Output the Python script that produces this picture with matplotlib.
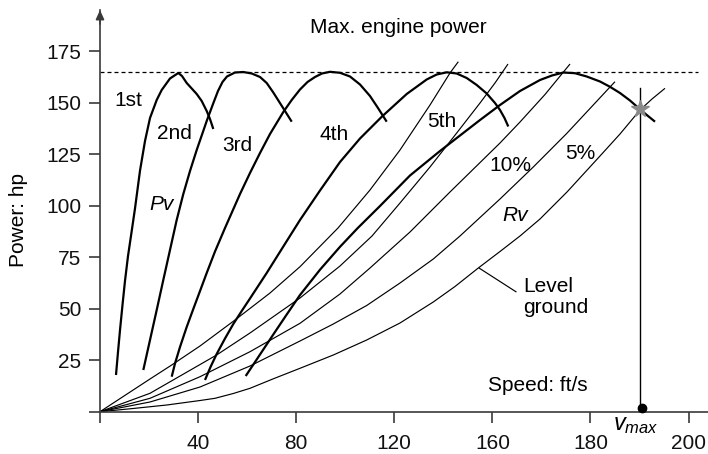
import matplotlib
matplotlib.use("Agg")
import matplotlib.pyplot as plt

plt.rcParams['font.family'] = ['Liberation Sans', 'DejaVu Sans']
plt.rcParams['mathtext.fontset'] = 'custom'
plt.rcParams['mathtext.rm'] = 'Liberation Sans'
plt.rcParams['mathtext.it'] = 'Liberation Sans:italic'

# ---------------- data (speed units as drawn, power in hp) ----------------
gear1_v = [6.52, 7.34, 8.16, 9.17, 10.19, 11.42, 12.93, 14.27, 16.31, 18.35, 20.39, 23.12, 25.16, 28.54, 31.93,
           33.44, 35.35, 37.39, 39.43, 41.47, 43.51, 44.85, 46.20]
gear1_p = [17.81, 28.97, 39.64, 51.77, 63.42, 75.54, 87.67, 98.60, 116.93, 131.34, 142.50, 151.24, 156.09, 161.67, 164.34,
           162.88, 159.49, 156.82, 154.15, 150.75, 145.90, 142.02, 137.17]

gear2_v = [17.66, 20.39, 23.12, 25.81, 28.54, 31.27, 33.97, 36.70, 39.43, 43.51, 46.08, 48.11, 49.95, 51.78, 55.05,
           58.43, 61.86, 65.24, 67.97, 70.66, 74.74, 78.17]
gear2_p = [20.23, 34.79, 49.34, 63.90, 78.46, 93.01, 105.63, 116.79, 126.98, 141.05, 149.30, 155.60, 159.97, 162.64, 164.58,
           164.82, 164.10, 162.40, 159.49, 154.88, 147.21, 140.71]

gear3_v = [29.24, 30.58, 32.62, 35.35, 38.04, 40.78, 43.51, 46.89, 50.97, 57.09, 61.16, 65.24, 69.32, 74.74, 78.17,
           81.55, 84.61, 87.67, 90.52, 93.79, 97.86, 101.94, 106.02, 110.09, 113.35, 116.90]
gear3_p = [16.98, 23.39, 31.39, 41.10, 49.83, 58.56, 67.30, 77.73, 89.13, 105.63, 115.82, 125.52, 134.74, 145.41, 151.24,
           156.33, 159.97, 162.40, 164.10, 164.92, 164.44, 162.64, 158.76, 153.18, 147.35, 140.71]

gear4_v = [42.81, 45.06, 47.58, 50.97, 54.35, 57.78, 61.16, 67.97, 74.62, 81.55, 89.71, 97.86, 106.02, 114.99, 125.06,
           133.21, 137.29, 141.37, 145.45, 149.52, 153.60, 157.68, 161.06, 163.10, 164.93, 166.48]
gear4_p = [15.38, 21.69, 28.00, 35.52, 42.55, 48.86, 54.93, 67.30, 79.91, 93.01, 107.33, 121.15, 132.56, 143.23, 154.15,
           161.19, 163.61, 164.68, 164.10, 161.91, 158.52, 154.39, 149.78, 146.38, 142.50, 138.38]

gear5_v = [59.41, 63.89, 70.66, 76.13, 81.55, 89.71, 97.86, 105.0, 114.17, 126.40, 138.64, 146.79, 154.95, 163.10,
           171.26, 179.41, 184.30, 188.91, 193.68, 198.45, 203.88, 207.95, 212.03, 216.11, 220.19, 223.45, 226.31]
gear5_p = [17.32, 25.33, 37.46, 47.16, 56.62, 68.90, 80.00, 89.00, 99.80, 114.60, 126.49, 134.01, 141.53, 148.81,
           155.60, 160.94, 163.13, 164.58, 164.24, 162.64, 160.21, 157.64, 154.63, 150.99, 146.72, 143.47, 140.71]

# resistance power curves Rv (two steepest grades, 10 %, 5 %, level ground)
rA_v = [0, 20.39, 29.24, 40.78, 55.05, 69.32, 81.55, 97.05, 110.09, 122.33, 134.56, 142.71, 146.10]
rA_p = [0, 15.87, 22.66, 31.88, 44.49, 57.59, 70.35, 89.13, 107.57, 126.98, 148.81, 164.34, 169.82]

rB_v = [0, 20.39, 47.55, 61.16, 81.55, 97.86, 110.91, 122.33, 134.56, 145.45, 154.95, 161.06, 166.36]
rB_p = [0, 8.93, 27.51, 38.19, 55.17, 70.69, 85.25, 101.26, 118.73, 135.23, 149.78, 159.49, 168.70]

r10_v = [0, 20.39, 40.78, 61.16, 81.55, 97.86, 110.09, 126.40, 142.71, 163.10, 171.26, 181.45, 191.65]
r10_p = [0, 6.50, 16.98, 29.11, 42.89, 57.11, 69.72, 87.19, 106.60, 130.37, 140.56, 153.91, 168.70]

r5_v = [0, 20.39, 40.78, 61.16, 81.55, 95.13, 108.75, 122.33, 135.90, 146.79, 163.10, 176.68, 190.29, 199.79, 209.98]
r5_p = [0, 4.71, 11.98, 22.17, 34.30, 42.55, 51.53, 62.44, 74.09, 85.25, 103.20, 118.73, 134.98, 147.11, 160.12]

rlev_v = [0, 13.46, 27.23, 40.78, 46.89, 54.35, 61.16, 70.66, 81.55, 95.13, 108.75, 122.33, 135.90, 144.75, 154.25,
          163.10, 171.26, 179.41, 190.42, 203.88, 212.03, 220.19, 225.08, 230.38]
rlev_p = [0, 1.55, 3.25, 5.43, 6.50, 8.83, 11.35, 15.96, 21.06, 27.51, 34.79, 43.04, 53.23, 60.75, 69.72,
          77.73, 85.25, 93.50, 106.60, 124.07, 134.74, 146.39, 151.72, 156.91]

max_power = 165
vmax_speed = 220.2
vmax_power = 146.7

x_ticks = [0, 40, 80, 120, 160, 200, 240]
x_tick_labels = ["", "40", "80", "120", "160", "180", "200"]
y_ticks = [0, 25, 50, 75, 100, 125, 150, 175]
y_tick_labels = ["", "25", "50", "75", "100", "125", "150", "175"]

# ---------------- figure ----------------
W, H = 708, 454
fig = plt.figure(figsize=(W / 100, H / 100), dpi=100)
ax = fig.add_axes([100 / W, (H - 411.7) / H, 608 / W, (411.7 - 10) / H])
ax.set_xlim(0, 608 * 0.40775)
ax.set_ylim(0, (411.7 - 10) / 2.061)

axcol = '#3a3a3a'
for s in ['top', 'right']:
    ax.spines[s].set_visible(False)
for s in ['left', 'bottom']:
    ax.spines[s].set_color(axcol)
    ax.spines[s].set_linewidth(1.2)

ax.set_xticks(x_ticks)
ax.set_xticklabels(x_tick_labels)
ax.set_yticks(y_ticks)
ax.set_yticklabels(y_tick_labels)
ax.tick_params(axis='both', direction='out', length=8, width=1.2, color=axcol,
               labelsize=15, labelcolor='#111111')
ax.tick_params(axis='x', pad=8)
ax.tick_params(axis='y', pad=5.5)

# y-axis arrow head
ax.annotate('', xy=(0, (411.7 - 10) / 2.061), xytext=(0, (411.7 - 24) / 2.061),
            arrowprops=dict(arrowstyle='-|>,head_length=0.55,head_width=0.25',
                            color=axcol, lw=1.2, shrinkA=0, shrinkB=0),
            annotation_clip=False)

# max engine power
ax.plot([0, 243.8], [max_power, max_power], ls=(0, (3.2, 2.4)), color='black', lw=0.9)

thin = dict(color='black', lw=0.85, solid_capstyle='butt', solid_joinstyle='round')
for xs, ys in [(rA_v, rA_p), (rB_v, rB_p), (r10_v, r10_p), (r5_v, r5_p), (rlev_v, rlev_p)]:
    ax.plot(xs, ys, **thin)

thick = dict(color='black', lw=1.6, solid_capstyle='butt', solid_joinstyle='round')
for xs, ys in [(gear1_v, gear1_p), (gear2_v, gear2_p), (gear3_v, gear3_p),
               (gear4_v, gear4_p), (gear5_v, gear5_p)]:
    ax.plot(xs, ys, **thick)

# vmax vertical line, star and dot
ax.plot([vmax_speed, vmax_speed], [0, 156.9], color='black', lw=1.0)
ax.plot([vmax_speed], [vmax_power], marker='*', ms=13, color='#8a8a8a', mec='#8a8a8a', zorder=5)
ax.plot([vmax_speed + 0.6], [1.9], marker='o', ms=6, color='black', clip_on=False, zorder=6)

# leader line for level ground
ax.plot([154.7, 169.6], [69.6, 58.2], color='black', lw=0.85)

fs = 15
ax.text(121.5, 186.6, "Max. engine power", fontsize=fs, ha='center', va='center')
ax.text(11.4, 151.0, "1st", fontsize=fs, ha='center', va='center')
ax.text(30.2, 135.2, "2nd", fontsize=fs, ha='center', va='center')
ax.text(55.9, 129.4, "3rd", fontsize=fs, ha='center', va='center')
ax.text(95.4, 134.3, "4th", fontsize=fs, ha='center', va='center')
ax.text(139.5, 140.6, "5th", fontsize=fs, ha='center', va='center')
ax.text(24.9, 100.3, "Pv", fontsize=fs, ha='center', va='center', style='italic')
ax.text(167.2, 119.3, "10%", fontsize=fs, ha='center', va='center')
ax.text(195.7, 125.5, "5%", fontsize=fs, ha='center', va='center')
ax.text(169.2, 95.0, "Rv", fontsize=fs, ha='center', va='center', style='italic')
ax.text(172.5, 55.6, "Level\nground", fontsize=fs, ha='left', va='center', linespacing=1.1)
ax.text(158.2, 12.9, "Speed: ft/s", fontsize=fs, ha='left', va='center')
ax.text(218.6, -6.4, r"$v_{max}$", fontsize=17, ha='center', va='center')

fig.text(19 / W, 1 - 220 / H, "Power: hp", fontsize=fs, rotation=90, ha='center', va='center')

fig.savefig("out.png", dpi=100)
